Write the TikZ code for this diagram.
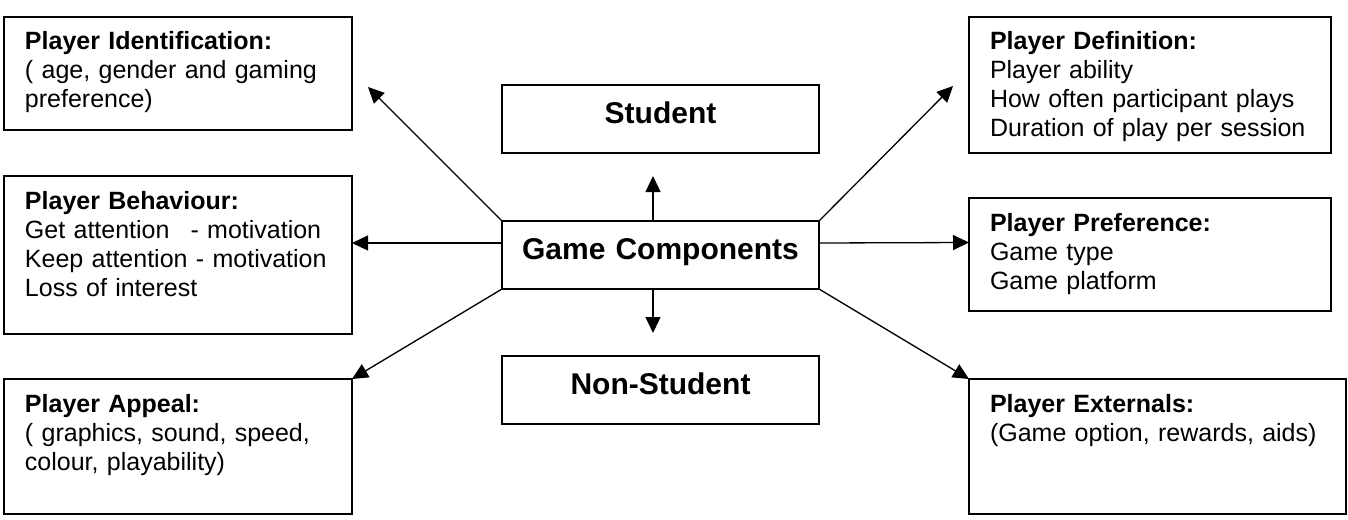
\documentclass[tikz,border=0pt]{standalone}
\usepackage{fontspec}
\setmainfont{Liberation Sans}
\usetikzlibrary{
    arrows.meta,
    calc
}
\tikzset {
    info box/.style 2 args = {
        draw, line width = 0.8pt, outer sep = 0pt,
        anchor = north west, align = left,
        text width = #1, inner xsep = 10.5pt, inner ysep = 7.5pt,
        text height = 9pt, text depth = #2,
        font = \fontsize{12.5}{14.5}\selectfont
    },
    main box/.style = {
        draw, line width = 0.8pt, outer sep = 0pt,
        anchor = north west, align = center,
        text width = 158.5pt, inner xsep = 0pt, inner ysep = 7.5pt,
        text height = 11.75pt, text depth = 7.25pt,
        font = \fontsize{15}{18}\selectfont\bfseries
    },
    %
    link/.style = {
        -{Triangle[length = 8pt, width = 7.5pt]},
        line width = 0.65pt
    }
}

\begin{document}
\begin{tikzpicture}[x = 0.5pt, y = -0.5pt]
    \useasboundingbox (0, 0) rectangle (1348, 519);
    % middle column
    \node (student) [main box] at (502, 85) {Student};
    \node (game) [main box] at (502, 221) {Game Components};
    \node (nonstudent) [main box] at (502, 356) {Non-Student};
    % left column
    \node (ident) [info box = {153pt}{32.5pt}] at (4, 17)
        {\textbf{Player Identification:}\\( age, gender and gaming\\preference)};
    \node (behav) [info box = {153pt}{55pt}] at (4, 176)
        {\textbf{Player Behaviour:}\\Get attention\hspace{10.5pt}- motivation\\Keep attention - motivation\\Loss of interest};
    \node (appeal) [info box = {153pt}{43.5pt}] at (4, 379)
        {\textbf{Player Appeal:}\\( graphics, sound, speed,\\colour, playability)};
    % right column
    \node (defn) [info box = {160pt}{44pt}] at (969, 17)
        {\textbf{Player Definition:}\\Player ability\\How often participant plays\\Duration of play per session};
    \node (pref) [info box = {160pt}{32.5pt}] at (969, 198)
        {\textbf{Player Preference:}\\Game type\\Game platform};
    \node (ext) [info box = {167.5pt}{43.5pt}] at (969, 379)
        {\textbf{Player Externals:}\\(Game option, rewards, aids)};
    % free arrow ends
    \coordinate (identtip) at (368, 87);
    \coordinate (defntip) at (953, 86);
    \coordinate (uptail) at (653, 221);
    \coordinate (uptip) at (653, 176);
    \coordinate (downtail) at (653, 289);
    \coordinate (downtip) at (653, 333);
    % arrows
    \draw [link] (game.north west) -- (identtip);
    \draw [link] ([yshift = 6pt] game.west) -- ([yshift = 6pt] behav.east);
    \draw [link] (game.south west) -- (appeal.north east);
    \draw [link] (game.north east) -- (defntip);
    \draw [link] ([yshift = 6pt] game.east) -- ([yshift = 6pt] pref.west);
    \draw [link] (game.south east) -- (ext.north west);
    \draw [link] (uptail) -- (uptip);
    \draw [link] (downtail) -- (downtip);
\end{tikzpicture}
\end{document}
